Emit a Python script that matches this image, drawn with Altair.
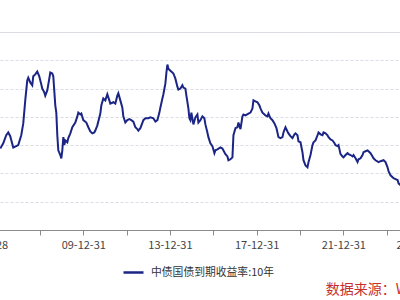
import altair as alt
import pandas as pd

# decimal year of each observation and 10Y yield (%)
years = [2006.166, 2006.305, 2006.443, 2006.536, 2006.628, 2006.767, 2006.905, 2006.998,
         2007.136, 2007.229, 2007.321, 2007.413, 2007.460, 2007.552, 2007.644, 2007.691,
         2007.783, 2007.875, 2007.968, 2008.060, 2008.106, 2008.199, 2008.245, 2008.337,
         2008.430, 2008.476, 2008.568, 2008.614, 2008.707, 2008.753, 2008.799, 2008.845,
         2008.938, 2008.984, 2009.030, 2009.076, 2009.122, 2009.169, 2009.261, 2009.307,
         2009.400, 2009.492, 2009.630, 2009.723, 2009.769, 2009.861, 2009.908, 2010.000,
         2010.139, 2010.231, 2010.323, 2010.416, 2010.508, 2010.554, 2010.647, 2010.785,
         2010.831, 2010.924, 2011.016, 2011.109, 2011.201, 2011.247, 2011.386, 2011.478,
         2011.570, 2011.617, 2011.709, 2011.801, 2011.848, 2011.940, 2012.032, 2012.125,
         2012.217, 2012.309, 2012.402, 2012.494, 2012.540, 2012.633, 2012.771, 2012.864,
         2013.002, 2013.095, 2013.233, 2013.326, 2013.418, 2013.510, 2013.557, 2013.649,
         2013.695, 2013.788, 2013.834, 2013.880, 2013.926, 2014.018, 2014.111, 2014.157,
         2014.249, 2014.342, 2014.388, 2014.480, 2014.573, 2014.619, 2014.711, 2014.758,
         2014.850, 2014.896, 2014.942, 2014.988, 2015.081, 2015.173, 2015.266, 2015.312,
         2015.404, 2015.497, 2015.589, 2015.635, 2015.727, 2015.774, 2015.866, 2015.958,
         2016.051, 2016.097, 2016.189, 2016.328, 2016.420, 2016.559, 2016.651, 2016.697,
         2016.790, 2016.882, 2016.928, 2017.021, 2017.113, 2017.159, 2017.252, 2017.344,
         2017.390, 2017.483, 2017.621, 2017.714, 2017.806, 2017.852, 2017.945, 2018.037,
         2018.129, 2018.176, 2018.268, 2018.314, 2018.406, 2018.499, 2018.545, 2018.637,
         2018.730, 2018.822, 2018.915, 2019.007, 2019.099, 2019.192, 2019.238, 2019.330,
         2019.423, 2019.469, 2019.561, 2019.654, 2019.746, 2019.792, 2019.885, 2019.931,
         2020.023, 2020.115, 2020.162, 2020.254, 2020.346, 2020.393, 2020.485, 2020.577,
         2020.624, 2020.716, 2020.808, 2020.855, 2020.947, 2021.039, 2021.085, 2021.178,
         2021.270, 2021.316, 2021.409, 2021.501, 2021.594, 2021.640, 2021.732, 2021.778,
         2021.871, 2021.963, 2022.009, 2022.102, 2022.194, 2022.240, 2022.333, 2022.425,
         2022.471, 2022.564, 2022.656, 2022.702, 2022.795, 2022.887, 2022.933, 2023.025,
         2023.118, 2023.164, 2023.256, 2023.349, 2023.395, 2023.487, 2023.626, 2023.718,
         2023.857, 2023.949, 2024.042, 2024.088, 2024.180, 2024.273, 2024.319, 2024.411,
         2024.503, 2024.550, 2024.642]

yields = [2.93, 3.04, 3.21, 3.27, 3.19, 2.95, 2.98, 3.00,
          3.21, 3.46, 3.95, 4.37, 4.43, 4.33, 4.27, 4.46,
          4.50, 4.56, 4.46, 4.29, 4.20, 4.12, 4.05, 4.16,
          4.41, 4.54, 4.52, 4.46, 3.84, 3.69, 3.21, 2.89,
          2.79, 2.72, 2.89, 3.17, 3.00, 3.10, 3.06, 3.15,
          3.25, 3.38, 3.48, 3.61, 3.69, 3.65, 3.67, 3.53,
          3.48, 3.38, 3.29, 3.25, 3.27, 3.31, 3.42, 3.67,
          3.84, 3.99, 3.95, 4.08, 3.95, 3.88, 3.91, 3.88,
          4.05, 4.10, 3.95, 3.80, 3.61, 3.48, 3.53, 3.55,
          3.53, 3.50, 3.38, 3.34, 3.31, 3.36, 3.53, 3.57,
          3.57, 3.59, 3.57, 3.50, 3.53, 3.69, 3.80, 3.99,
          4.08, 4.31, 4.54, 4.71, 4.62, 4.58, 4.54, 4.52,
          4.41, 4.24, 4.18, 4.20, 4.27, 4.22, 4.20, 4.05,
          3.78, 3.57, 3.53, 3.69, 3.44, 3.59, 3.65, 3.48,
          3.53, 3.61, 3.57, 3.44, 3.27, 3.17, 3.04, 2.98,
          2.83, 2.89, 2.91, 2.95, 2.93, 2.81, 2.76, 2.68,
          2.70, 2.74, 3.21, 3.36, 3.38, 3.48, 3.34, 3.61,
          3.65, 3.63, 3.67, 3.69, 3.78, 3.95, 3.93, 3.91,
          3.84, 3.78, 3.69, 3.67, 3.63, 3.61, 3.67, 3.57,
          3.53, 3.46, 3.36, 3.17, 3.15, 3.17, 3.27, 3.38,
          3.29, 3.25, 3.19, 3.15, 3.23, 3.25, 3.21, 3.08,
          3.06, 2.85, 2.68, 2.57, 2.53, 2.64, 2.79, 3.00,
          3.06, 3.10, 3.21, 3.27, 3.23, 3.21, 3.27, 3.25,
          3.21, 3.17, 3.12, 3.10, 3.04, 3.00, 2.98, 3.00,
          2.81, 2.76, 2.74, 2.79, 2.83, 2.81, 2.79, 2.76,
          2.79, 2.72, 2.64, 2.70, 2.72, 2.79, 2.85, 2.87,
          2.89, 2.87, 2.83, 2.76, 2.72, 2.68, 2.64, 2.66,
          2.68, 2.64, 2.53, 2.45, 2.36, 2.32, 2.30, 2.28,
          2.26, 2.19, 2.15]

series_name = "中债国债到期收益率:10年"
source_text = "数据来源：Wind"
tick_dates = [(2005, 6, 28), (2007, 12, 31), (2009, 12, 31), (2011, 12, 31),
              (2013, 12, 31), (2015, 12, 31), (2017, 12, 31), (2019, 12, 31),
              (2021, 12, 31), (2023, 12, 31), (2025, 6, 13)]
grid_values = [1.8, 2.4, 3.0, 3.6, 4.2, 4.8, 5.4]


def to_date(y):
    yr = int(y)
    start = pd.Timestamp(yr, 1, 1)
    end = pd.Timestamp(yr + 1, 1, 1)
    return (start + (end - start) * (y - yr)).strftime("%Y-%m-%dT%H:%M:%S")


df = pd.DataFrame({
    "date": [to_date(y) for y in years],
    "value": yields,
    "series": series_name,
})

FONT = "Noto Sans CJK SC"

label_expr = ("(month(datum.value) == 11 && (year(datum.value) - 2009) % 4 != 0) "
              "? '' : timeFormat(datum.value, '%y-%m-%d')")

chart = alt.Chart(df).mark_line(strokeWidth=2).encode(
    x=alt.X(
        "date:T",
        scale=alt.Scale(
            domain=[alt.DateTime(year=2005, month=1, date=1),
                    alt.DateTime(year=2026, month=1, date=1)],
            nice=False,
        ),
        axis=alt.Axis(
            values=[alt.DateTime(year=a, month=b, date=c) for a, b, c in tick_dates],
            labelExpr=label_expr,
            title=None,
            grid=False,
            domainColor="#8a8a8a",
            tickColor="#8a8a8a",
            tickSize=5,
            labelPadding=4,
            labelFont=FONT,
            labelFontSize=11,
            labelColor="#444444",
            labelFlush=False,
            labelOverlap=False,
            labelBound=False,
        ),
    ),
    y=alt.Y(
        "value:Q",
        scale=alt.Scale(domain=[1.2, 5.4], nice=False, zero=False),
        axis=alt.Axis(
            values=grid_values,
            grid=True,
            gridDash=[3, 2],
            gridColor="#dadde5",
            domain=False,
            ticks=False,
            labels=False,
            title=None,
        ),
    ),
    color=alt.Color(
        "series:N",
        scale=alt.Scale(range=["#1b2585"]),
        legend=alt.Legend(
            orient="none",
            legendX=147,
            legendY=229,
            title=None,
            symbolType="stroke",
            symbolSize=400,
            symbolStrokeWidth=2.5,
            labelFont=FONT,
            labelFontSize=10.8,
            labelColor="#333333",
            labelOffset=6,
            padding=0,
        ),
    ),
).properties(
    width=455,
    height=198,
    padding={"left": -25, "right": -30, "top": 32, "bottom": 70},
    autosize=alt.AutoSizeParams(type="none"),
    title=alt.TitleParams(
        text=source_text,
        orient="bottom",
        anchor="end",
        color="#c8302c",
        fontSize=14,
        font=FONT,
        fontWeight="normal",
        offset=5,
        dx=-11,
    ),
).configure_view(stroke=None).configure(background="white")

chart.save("out.html", embed_options={"renderer": "svg", "actions": False})
